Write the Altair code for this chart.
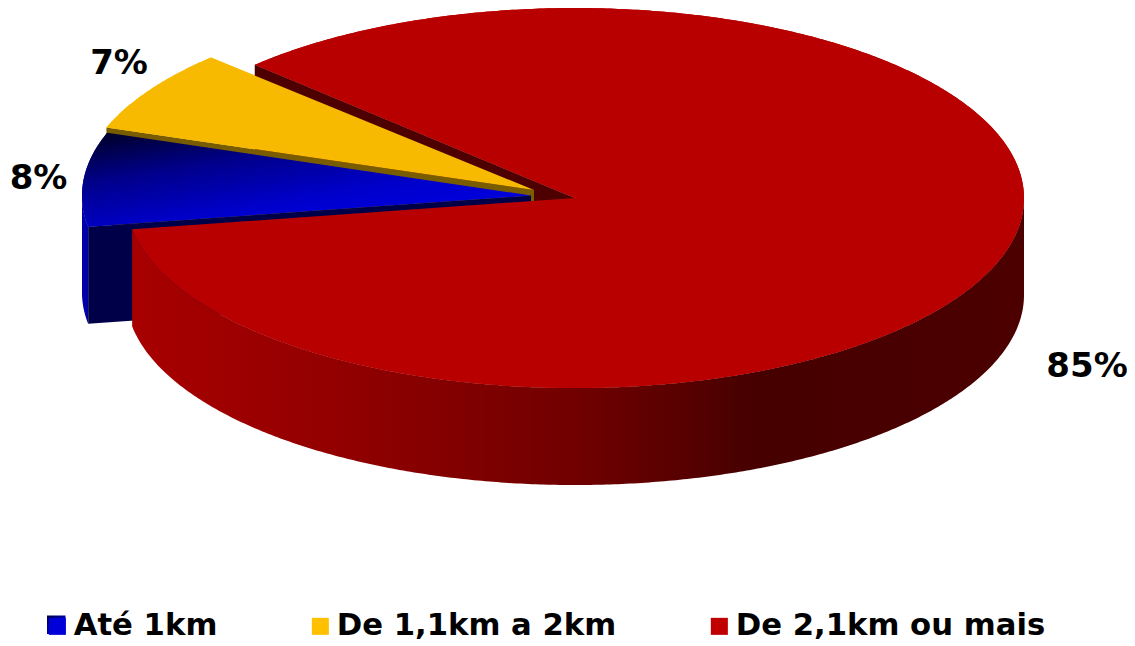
import math
import altair as alt

labels = ["Até 1km", "De 1,1km a 2km", "De 2,1km ou mais"]
shares = [8, 7, 85]
share_text = ["8%", "7%", "85%"]
legend_colors = ["#0000D8", "#FFC000", "#C00000"]

W, H = 1119, 626
OFF = 8                 # page margin
START = 224.5           # angle of the first edge of the largest slice
FONT = "DejaVu Sans"


def rim(c, t):
    return [c["cx"] - OFF + c["rx"] * math.cos(math.radians(t)),
            c["cy"] - OFF + c["ry"] * math.sin(math.radians(t))]


def arc(c, t0, t1, step=0.5):
    n = max(2, int(abs(t1 - t0) / step))
    return [rim(c, t0 + (t1 - t0) * i / n) for i in range(n + 1)]


def down(p, d):
    return [p[0], p[1] + d]


def apex(c):
    return [c["cx"] - OFF, c["cy"] - OFF]


def wedge(c, t0, t1):
    return [apex(c)] + arc(c, t0, t1) + [apex(c)]


def radial_wall(c, t):
    a, r = apex(c), rim(c, t)
    d = c["d"]
    return [a, r, down(r, d), down(a, d), a]


def outer_wall(c, t0, t1):
    top = arc(c, t0, t1)
    return top + [down(p, c["d"]) for p in reversed(top)] + [top[0]]


def feature(ring, **props):
    return {"type": "Feature", "properties": props,
            "geometry": {"type": "Polygon", "coordinates": [ring]}}


def collection(features):
    return alt.InlineData(values={"type": "FeatureCollection", "features": features},
                          format=alt.DataFormat(property="features", type="json"))


def face(ring, fill):
    return alt.Chart(collection([feature(ring)])).mark_geoshape(fill=fill, stroke=None)


def grad(stops, x1=0, y1=0, x2=1, y2=0):
    return alt.LinearGradient(gradient="linear", x1=x1, y1=y1, x2=x2, y2=y2,
                              stops=[alt.GradientStop(offset=o, color=k) for o, k in stops])


sweep = [s * 3.6 for s in shares]
red_t0 = START
red_t1 = START + sweep[2]
blue_t0 = red_t1 - 360
blue_t1 = blue_t0 + sweep[0]
yel_t0 = blue_t1
yel_t1 = yel_t0 + sweep[1]

red = dict(cx=575, cy=198, rx=449, ry=190, d=97)
blue = dict(cx=531, cy=195.5, rx=449, ry=190, d=97)
yel = dict(cx=534, cy=190, rx=453, ry=189, d=97)

tops = [wedge(blue, blue_t0, blue_t1), wedge(yel, yel_t0, yel_t1), wedge(red, red_t0, red_t1)]

legend_layer = alt.Chart(collection(
    [feature(r, name=n) for r, n in zip(tops, labels)]
)).mark_geoshape(stroke=None).encode(
    color=alt.Color("properties.name:N",
                    scale=alt.Scale(domain=labels, range=legend_colors),
                    legend=alt.Legend(
                        orient="none", legendX=34, legendY=603, direction="horizontal",
                        columns=3, columnPadding=87, gridAlign="none", title=None,
                        symbolType="square", symbolSize=290, symbolStrokeWidth=0,
                        labelFont=FONT, labelFontWeight="bold", labelFontSize=30.7,
                        labelColor="#000000", labelLimit=500, labelOffset=1,
                    ))
)

blue_grad = grad([(0, "#000028"), (0.3, "#000088"), (0.65, "#0000CC"), (1, "#0000E8")],
                 x1=0.05, y1=0, x2=0.85, y2=1)
red_wall_grad = grad([(0, "#A80000"), (0.25, "#900000"), (0.5, "#700000"),
                      (0.7, "#460000"), (1, "#4C0000")])

swatch = [[39, 607.5], [57.5, 607.5], [57.5, 626], [39, 626], [39, 607.5]]

text_df = alt.Data(values=[
    {"t": share_text[0], "lon": 38.5 - OFF, "lat": 179 - OFF},
    {"t": share_text[1], "lon": 119 - OFF, "lat": 64 - OFF},
    {"t": share_text[2], "lon": 1087 - OFF, "lat": 367 - OFF},
])
text = alt.Chart(text_df).mark_text(
    font=FONT, fontWeight="bold", fontSize=34, color="#000000", align="center", baseline="middle"
).encode(longitude="lon:Q", latitude="lat:Q", text="t:N")

chart = alt.layer(
    legend_layer,
    face(outer_wall(blue, blue_t0, 180), "#0000A8"),
    face(radial_wall(red, red_t0), "#4E0000"),
    face(radial_wall(yel, yel_t0), "#7A5C00"),
    face(radial_wall(blue, blue_t0), "#000048"),
    face(outer_wall(red, 360, red_t1), red_wall_grad),
    face(tops[0], blue_grad),
    face(tops[1], "#F8BA00"),
    face(tops[2], "#B80000"),
    face(swatch, grad([(0, "#000040"), (1, "#0000F0")], x2=1, y2=1)),
    text,
).project(type="identity", scale=1, translate=[0, 0]).properties(
    width=W, height=H, padding=0, background="#FFFFFF"
).configure_view(stroke=None)

chart.save("out.html", embed_options={"renderer": "svg", "actions": False})
